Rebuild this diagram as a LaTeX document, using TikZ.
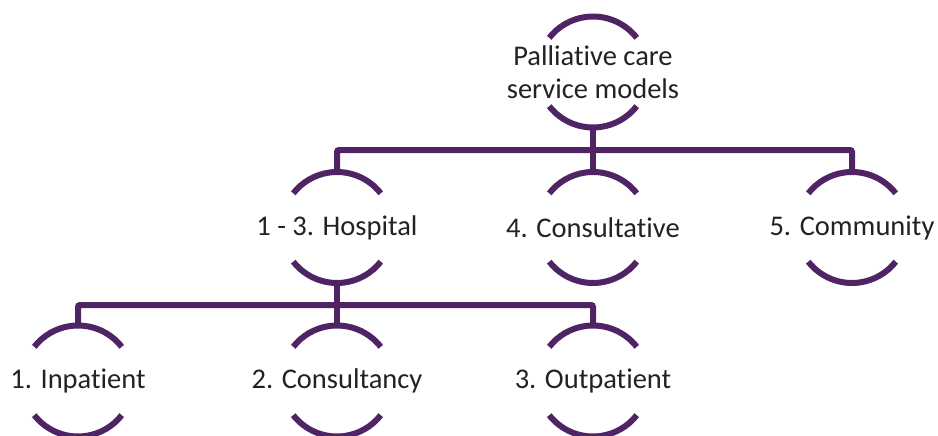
\documentclass[tikz,border=0pt]{standalone}
\usepackage{fontspec}
\setmainfont{Carlito}[Ligatures=NoCommon]
\definecolor{pur}{RGB}{80,36,100}
\definecolor{txtc}{RGB}{34,34,34}
\newcommand\Rr{55.5pt}
\begin{document}
\begin{tikzpicture}[x=1pt,y=-1pt,
  txt/.style={inner sep=0pt,text=txtc,font=\fontsize{28.5}{33}\selectfont,align=center},
  arcl/.style={draw=pur,line width=6pt},
  conn/.style={draw=pur,line width=6pt,rounded corners=2pt}]
\useasboundingbox (0,0) rectangle (938,436);
\newcommand\hnode[3]{%
  \node[txt] (#1) at (#2) {#3};
  \draw[arcl] ([shift={(38:\Rr)}]#1.center) arc[start angle=38,end angle=142,radius=\Rr];
  \draw[arcl] ([shift={(218:\Rr)}]#1.center) arc[start angle=218,end angle=322,radius=\Rr];}
\hnode{root}{593,72}{Palliative care\\service models}
\hnode{hosp}{337,227.5}{1 - 3. Hospital}
\hnode{cons}{593,227.5}{4. Consultative}
\hnode{comm}{852,227.5}{5. Community}
\hnode{inp}{78,381}{1. Inpatient}
\hnode{consu}{337,381}{2. Consultancy}
\hnode{outp}{593,381}{3. Outpatient}
\coordinate (b1) at (593,150);
\coordinate (b2) at (337,305);
\draw[conn] ([yshift=\Rr]hosp.center) |- (b1) -| ([yshift=\Rr]comm.center);
\draw[conn] ([yshift=-\Rr]root.center) -- ([yshift=\Rr]cons.center);
\draw[conn] ([yshift=\Rr]inp.center) |- (b2) -| ([yshift=\Rr]outp.center);
\draw[conn] ([yshift=-\Rr]hosp.center) -- ([yshift=\Rr]consu.center);
\end{tikzpicture}
\end{document}
